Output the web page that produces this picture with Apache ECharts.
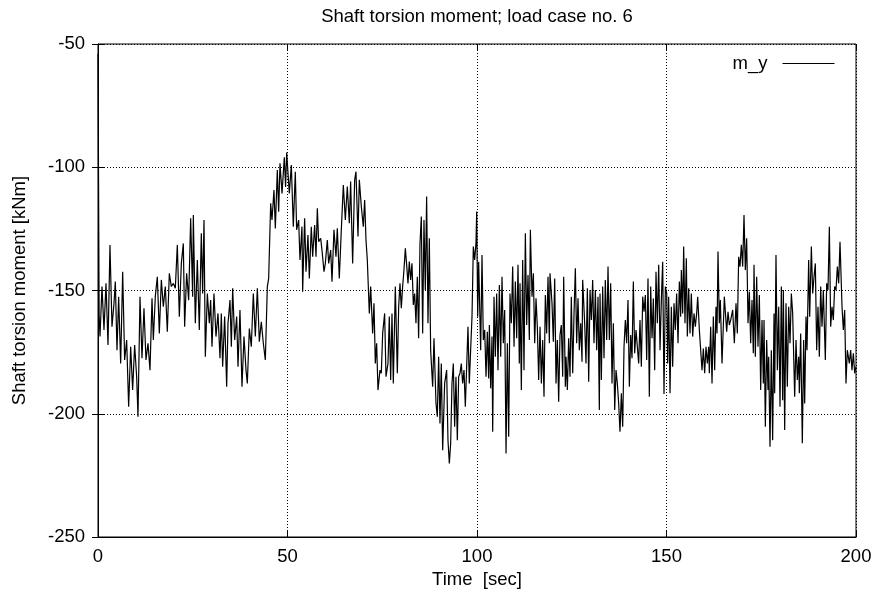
<!DOCTYPE html>
<html><head><meta charset="utf-8">
<script src="https://cdn.jsdelivr.net/npm/echarts/dist/echarts.min.js"></script>
<style>html,body{margin:0;padding:0;background:#fff}#c{width:879px;height:598px}</style>
</head><body><div id="c"></div>
<script>
const chartTitle = 'Shaft torsion moment; load case no. 6';
const xAxisName = 'Time  [sec]';
const yAxisName = 'Shaft torsion moment [kNm]';
const seriesName = 'm_y';
const xMin = 0, xMax = 200, xStep = 50;
const yMin = -250, yMax = -50, yStep = 50;

const timeSec = [
0,0.3,0.53,1.05,1.58,2.11,2.64,3.16,3.69,4.22,
4.57,5.01,5.45,5.98,6.51,7.03,7.56,8.09,8.62,9.14,
9.67,10.2,10.55,11.08,11.61,12.13,12.66,13.19,13.72,14.25,
14.6,15.12,15.65,16.18,16.71,17.24,17.76,18.29,18.82,19.35,
19.87,20.4,20.93,21.46,21.99,22.51,22.86,23.39,23.92,24.45,
24.98,25.15,25.68,26.21,26.73,27.26,27.61,27.97,28.32,28.85,
29.37,29.72,30.08,30.6,31.13,31.66,32.19,32.54,32.89,33.42,
33.95,34.3,34.83,35.18,35.53,36.06,36.59,36.94,37.46,37.99,
38.52,39.05,39.4,39.93,40.45,40.98,41.51,42.04,42.57,43.09,
43.62,44.15,44.68,45.03,45.56,45.91,46.43,46.79,47.31,47.67,
48.02,48.55,49.16,49.5,49.78,
50.48,51.01,51.53,52.06,52.41,52.94,53.29,53.82,54.00,54.52,
54.88,55.40,55.76,56.28,56.64,57.16,57.52,57.87,58.22,58.75,
59.10,59.63,59.98,60.51,60.86,61.39,61.74,62.26,62.79,63.14,
63.67,64.20,64.73,65.26,65.78,66.31,66.66,67.19,67.72,68.07,
68.60,68.95,69.48,70.00,70.36,70.71,71.06,71.59,71.94,72.47,
72.82,73.17,73.52,73.87,74.40,74.75,75.11,75.63,75.99,76.51,
76.86,77.22,77.57,77.92,78.45,78.98,79.33,79.68,80.03,80.38,
80.73,81.09,81.44,81.79,82.14,82.49,82.84,83.20,83.55,83.90,
84.25,84.60,84.96,85.31,85.66,86.01,86.36,86.71,87.07,87.42,
87.77,88.30,88.65,89.18,89.53,89.88,90.23,90.58,90.94,91.46,
91.99,92.34,92.70,93.05,93.40,93.75,94.10,94.45,94.81,95.16,
95.51,95.86,96.21,96.57,96.92,97.27,97.62,97.97,98.32,98.68,
99.03,99.38,99.73,
99.92,100.18,100.44,100.97,101.32,101.67,102.03,102.38,102.73,103.08,
103.26,103.61,103.96,104.14,104.49,104.84,105.19,105.54,105.90,106.25,
106.60,106.95,107.30,107.66,108.01,108.36,108.71,109.06,109.41,109.77,
110.12,110.47,110.82,111.17,111.35,111.70,112.05,112.40,112.76,113.11,
113.46,113.81,114.08,114.52,114.87,115.22,115.57,115.92,116.27,116.63,
116.98,117.33,117.68,118.03,118.38,118.74,119.09,119.26,119.79,120.14,
120.50,120.85,121.20,121.55,121.90,122.25,122.61,122.87,123.31,123.49,
123.84,124.19,124.54,124.89,125.25,125.60,125.95,126.30,126.65,127.00,
127.36,127.71,127.88,128.41,128.76,129.12,129.47,129.82,130.17,130.52,
130.87,131.23,131.58,131.93,132.28,132.46,132.81,133.16,133.51,133.86,
134.22,134.57,134.92,135.27,135.62,135.98,136.33,136.68,137.03,137.38,
137.73,138.09,138.44,138.79,139.14,139.49,139.84,140.20,140.55,140.90,
141.25,141.60,141.96,142.31,142.66,143.01,143.36,143.72,144.07,144.42,
144.77,145.12,145.47,145.83,146.18,146.53,146.88,147.23,147.58,147.94,
148.29,148.64,148.99,149.34,149.70,
150.05,150.31,150.57,150.93,151.28,151.63,151.98,152.33,152.68,153.04,
153.39,153.74,153.92,154.27,154.53,154.88,155.23,155.50,155.85,156.20,
156.55,156.91,157.26,157.61,157.96,158.23,158.67,159.02,159.37,159.72,
160.07,160.42,160.78,161.13,161.30,161.66,162.01,162.36,162.71,163.06,
163.33,163.59,163.94,164.21,164.65,165.26,165.88,166.23,166.58,166.93,
167.46,167.90,168.34,168.69,169.04,169.39,169.75,170.10,170.45,170.80,
171.15,171.51,171.86,172.21,172.56,172.91,173.09,173.44,173.79,174.14,
174.50,174.85,175.20,175.55,175.73,176.08,176.43,176.78,176.96,177.31,
177.66,178.01,178.37,178.54,178.89,179.25,179.60,179.95,180.30,180.65,
180.83,181.18,181.53,181.88,182.24,182.59,182.94,183.29,183.82,184.17,
184.52,184.87,185.05,185.40,185.84,186.19,186.46,186.81,187.07,187.51,
187.78,188.22,188.57,188.92,189.27,189.62,189.97,190.33,190.68,191.03,
191.38,191.91,192.26,192.61,192.97,193.32,193.67,194.02,194.37,194.72,
195.08,195.43,195.78,196.31,196.66,197.01,197.36,197.71,198.24,198.59,
198.94,199.30,199.65,200
];

const momentKNm = [
-54,-160,-168.7,-148.4,-166.0,-147.1,-172.1,-131.5,-164.7,-155.2,
-146.4,-174.2,-152.5,-179.6,-142.4,-178.2,-170.1,-197.2,-172.8,-190.4,
-172.1,-185.0,-201.2,-152.5,-177.5,-157.2,-178.2,-171.4,-182.3,-153.2,
-170.1,-152.5,-144.4,-167.4,-145.7,-156.6,-148.4,-166.7,-143.0,-148.4,
-147.1,-149.1,-131.5,-160.6,-139.0,-130.9,-164.7,-143.0,-153.9,-120.7,
-152.5,-119.4,-163.3,-137.6,-166.0,-126.8,-151.2,-121.4,-176.9,-151.2,
-163.3,-153.9,-172.8,-151.2,-168.7,-159.3,-177.5,-159.3,-180.9,-160.6,
-189.0,-163.3,-153.9,-172.8,-149.1,-170.1,-160.6,-180.9,-157.9,-189.0,
-168.7,-182.3,-187.7,-165.4,-172.8,-151.2,-168.7,-149.1,-170.8,-162.7,
-171.4,-178.2,-148.4,-145.1,-114.6,-121.4,-109.2,-124.8,-101.1,-118.0,
-98.4,-110.6,-96,-108,-94,
-110.6,-99.1,-124.1,-101.8,-125.4,-121.4,-137.6,-124.1,-150.5,-120.7,
-142.4,-127.5,-145.1,-124.1,-136.3,-123.4,-136.3,-116.6,-130.2,-128.8,
-133.6,-142.4,-139.0,-129.5,-139.0,-133.6,-146.4,-125.4,-136.3,-124.8,
-145.1,-125.4,-107.2,-121.4,-107.8,-122.7,-105.8,-139.0,-105.1,-101.8,
-128.1,-105.1,-116.0,-124.1,-113.3,-129.5,-137.6,-159.3,-148.4,-167.4,
-155.2,-179.6,-171.4,-190.4,-182.3,-183.6,-167.4,-159.3,-185.0,-179.6,
-160.6,-186.3,-159.3,-187.7,-148.4,-183.6,-156.6,-147.1,-157.2,-148.4,
-141.7,-132.9,-139.6,-147.1,-138.3,-145.7,-139.0,-155.9,-151.2,-163.3,
-144.4,-169.4,-130.9,-120.0,-167.4,-121.4,-149.8,-111.9,-163.3,-128.8,
-174.2,-189.0,-169.4,-195.8,-201.2,-176.9,-203.9,-179.6,-214.8,-187.7,
-182.3,-210.7,-220.2,-212.1,-187.7,-179.6,-205.3,-185.0,-210.7,-185.0,
-183.6,-179.6,-187.7,-182.3,-197.2,-180.9,-164.7,-187.7,-174.2,-160.6,
-132.2,-137.6,-130.9,
-118.0,-160.6,-138.3,-174.2,-135.6,-170.1,-166.0,-185.0,-166.7,-185.7,
-164.0,-189.7,-168.7,-207.3,-152.5,-176.9,-151.2,-182.3,-147.8,-176.9,
-144.4,-171.4,-157.9,-216.1,-171.4,-209.3,-151.2,-163.3,-140.3,-172.8,
-146.4,-169.4,-139.6,-179.6,-147.1,-190.4,-137.6,-182.3,-126.8,-164.0,
-143.7,-170.1,-125.4,-152.5,-143.0,-171.4,-153.2,-164.7,-186.3,-164.7,
-187.7,-170.1,-193.1,-151.8,-167.4,-144.4,-171.4,-143.0,-155.2,-170.8,
-145.1,-187.7,-170.1,-195.1,-168.1,-164.0,-185.0,-144.4,-189.0,-176.9,
-190.4,-169.4,-185.0,-152.5,-183.6,-159.3,-141.0,-171.4,-153.2,-174.2,
-163.3,-178.9,-145.7,-163.3,-179.6,-149.1,-187.0,-149.8,-162.0,-145.7,
-171.4,-149.8,-174.2,-152.5,-198.5,-151.2,-186.3,-148.4,-177.5,-145.7,
-170.1,-140.3,-170.1,-147.1,-187.7,-163.3,-198.5,-182.3,-187.7,-195.8,
-207.3,-191.7,-205.3,-172.8,-162.0,-171.4,-153.9,-189.0,-168.1,-177.5,
-146.4,-175.5,-166.0,-166.0,-179.6,-162.0,-180.9,-152.5,-158.6,-151.8,
-178.2,-145.1,-193.1,-148.4,-169.4,-153.2,-182.3,-142.4,-163.3,-139.6,
-174.2,-153.9,-138.3,-192.0,-148.4,
-151.2,-179.6,-152.5,-191.7,-156.6,-180.9,-155.2,-166.0,-151.2,-171.4,
-146.4,-160.6,-141.7,-159.3,-132.2,-163.3,-136.9,-168.7,-149.1,-167.4,
-151.2,-168.7,-159.3,-164.7,-159.3,-152.5,-166.0,-166.7,-182.3,-173.5,
-183.6,-172.8,-179.6,-172.8,-183.6,-164.7,-187.7,-160.6,-182.3,-156.6,
-167.4,-134.2,-163.3,-153.9,-179.6,-152.5,-166.7,-158.6,-164.0,-162.0,
-157.9,-171.4,-155.2,-167.4,-136.3,-140.3,-131.5,-140.3,-119.4,-141.7,
-128.8,-163.3,-150.5,-171.4,-153.9,-175.5,-139.6,-176.9,-144.4,-172.8,
-151.8,-190.4,-162.0,-187.7,-162.0,-205.3,-170.1,-190.4,-176.9,-213.4,
-174.2,-210.7,-159.3,-191.7,-135.6,-182.3,-156.6,-197.2,-148.4,-194.5,
-149.8,-206.6,-155.2,-189.0,-156.6,-171.4,-151.2,-159.3,-193.1,-170.1,
-186.3,-176.9,-191.7,-167.4,-212.0,-170.1,-195.8,-160.6,-174.2,-137.6,
-160.6,-132.2,-151.2,-144.4,-139.0,-174.2,-156.6,-176.9,-148.4,-164.7,
-149.8,-178.2,-147.1,-149.8,-124.1,-164.7,-156.6,-162.0,-148.4,-149.8,
-140.3,-147.1,-130.2,-156.6,-166.0,-157.9,-187.7,-174.2,-179.6,-174.2,
-182.3,-175.5,-183.6,-181
];

const FONT = '"Liberation Sans", Arial, Helvetica, sans-serif';
const FS = 18.5;
const seriesData = timeSec.map((t, i) => [t, momentKNm[i]]);

const chart = echarts.init(document.getElementById('c'), null, {renderer: 'canvas'});
const gridLine = {show: true, lineStyle: {color: '#000', type: [1, 2], width: 1}};
const tickIn = {show: true, inside: true, length: 6, lineStyle: {color: '#000', width: 1}};
const option = {
  animation: false,
  backgroundColor: '#fff',
  textStyle: {fontFamily: FONT, color: '#000'},
  title: {
    text: chartTitle, left: 477, top: 7, textAlign: 'center', padding: 0,
    textStyle: {fontFamily: FONT, fontSize: FS, fontWeight: 'normal', color: '#000'}
  },
  legend: {
    data: [seriesName], right: 44, top: 54, align: 'right',
    itemWidth: 52, itemHeight: 14, padding: 0,
    itemStyle: {opacity: 0, borderWidth: 0},
    lineStyle: {color: '#000', width: 1, opacity: 1},
    textStyle: {fontFamily: FONT, fontSize: FS, color: '#000', padding: [0, 10, 0, 0]}
  },
  grid: {
    left: 98, right: 23, top: 44, bottom: 61,
    show: true, borderColor: '#000', borderWidth: 1, backgroundColor: 'transparent',
    outerBoundsMode: 'none', containLabel: false
  },
  xAxis: [{
    type: 'value', min: xMin, max: xMax, interval: xStep, position: 'bottom',
    name: xAxisName, nameLocation: 'middle', nameGap: 32,
    nameTextStyle: {fontFamily: FONT, fontSize: FS, color: '#000'},
    axisLine: {show: true, lineStyle: {color: '#000', width: 1}},
    axisTick: tickIn, splitLine: gridLine,
    axisLabel: {fontFamily: FONT, fontSize: FS, color: '#000', margin: 10}
  }, {
    type: 'value', min: xMin, max: xMax, interval: xStep, position: 'top',
    axisLine: {show: false}, axisTick: tickIn, splitLine: {show: false},
    axisLabel: {show: false}
  }],
  yAxis: [{
    type: 'value', min: yMin, max: yMax, interval: yStep, position: 'left',
    name: yAxisName, nameLocation: 'middle', nameGap: 69, nameRotate: 90,
    nameTextStyle: {fontFamily: FONT, fontSize: FS, color: '#000'},
    axisLine: {show: true, lineStyle: {color: '#000', width: 1}},
    axisTick: tickIn, splitLine: gridLine,
    axisLabel: {fontFamily: FONT, fontSize: FS, color: '#000', margin: 13}
  }, {
    type: 'value', min: yMin, max: yMax, interval: yStep, position: 'right',
    axisLine: {show: false}, axisTick: tickIn, splitLine: {show: false},
    axisLabel: {show: false}
  }],
  series: [{
    name: seriesName, type: 'line', xAxisIndex: 0, yAxisIndex: 0,
    data: seriesData, symbol: 'none', showSymbol: false, smooth: false,
    lineStyle: {color: '#000', width: 1.2}, itemStyle: {color: '#000'},
    emphasis: {disabled: true}
  }]
};
chart.setOption(option);
</script>
</body></html>
